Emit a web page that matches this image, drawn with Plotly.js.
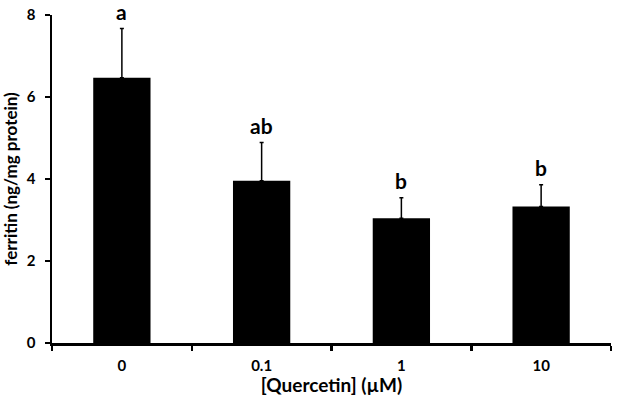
<!DOCTYPE html>
<html>
<head>
<meta charset="utf-8">
<title>ferritin</title>
<script src="https://cdn.plot.ly/plotly-3.0.1.min.js"></script>
<style>
  body { margin: 0; background: #fff; }
  #chart { width: 618px; height: 406px; }
</style>
</head>
<body>
<div id="chart"></div>
<script>
// values
const doses = ['0', '0.1', '1', '10'];
const ferritin = [6.47, 3.96, 3.04, 3.33];
const errUp = [1.20, 0.93, 0.50, 0.53];
const letters = ['a', 'ab', 'b', 'b'];

const font = 'Lato, "Open Sans", sans-serif';

const trace = {
  type: 'bar',
  x: doses,
  y: ferritin,
  width: 0.41,
  marker: { color: '#000' },
  error_y: {
    type: 'data',
    symmetric: false,
    array: errUp,
    arrayminus: doses.map(() => 0),
    color: '#000',
    thickness: 1.5,
    width: 2
  },
  hoverinfo: 'none'
};

// significance letters sit on top of the error bars (x = category index)
const notes = doses.map((d, i) => ({
  x: i,
  y: ferritin[i] + errUp[i],
  xref: 'x', yref: 'y',
  text: '<b>' + letters[i] + '</b>',
  showarrow: false,
  yanchor: 'bottom',
  yshift: 3,
  font: { family: font, size: 21, color: '#000' }
}));

const layout = {
  width: 618, height: 406,
  margin: { l: 52, r: 7, t: 15, b: 63 },
  paper_bgcolor: '#fff',
  plot_bgcolor: '#fff',
  showlegend: false,
  font: { family: font, color: '#000' },
  xaxis: {
    type: 'category',
    range: [-0.5, 3.5],
    showline: true, linecolor: '#000', linewidth: 2.5,
    ticks: 'outside', tickson: 'boundaries', ticklen: 5, tickwidth: 2.5, tickcolor: '#000',
    ticklabelstandoff: 7,
    tickfont: { family: font, size: 15, weight: 'bold' },
    showgrid: false, zeroline: false,
    title: { text: '[Quercetin] (µM)', font: { family: font, size: 19, weight: 'bold' }, standoff: 6 }
  },
  yaxis: {
    range: [0, 8],
    dtick: 2,
    showline: true, linecolor: '#000', linewidth: 2.5,
    ticks: 'outside', ticklen: 5, tickwidth: 2.5, tickcolor: '#000',
    ticklabelstandoff: 6,
    tickfont: { family: font, size: 15, weight: 'bold' },
    showgrid: false, zeroline: false,
    title: { text: 'ferritin (ng/mg protein)', font: { family: font, size: 17, weight: 'bold' }, standoff: 8 }
  },
  annotations: notes
};

Plotly.newPlot('chart', [trace], layout, { displayModeBar: false, staticPlot: true });
</script>
</body>
</html>
